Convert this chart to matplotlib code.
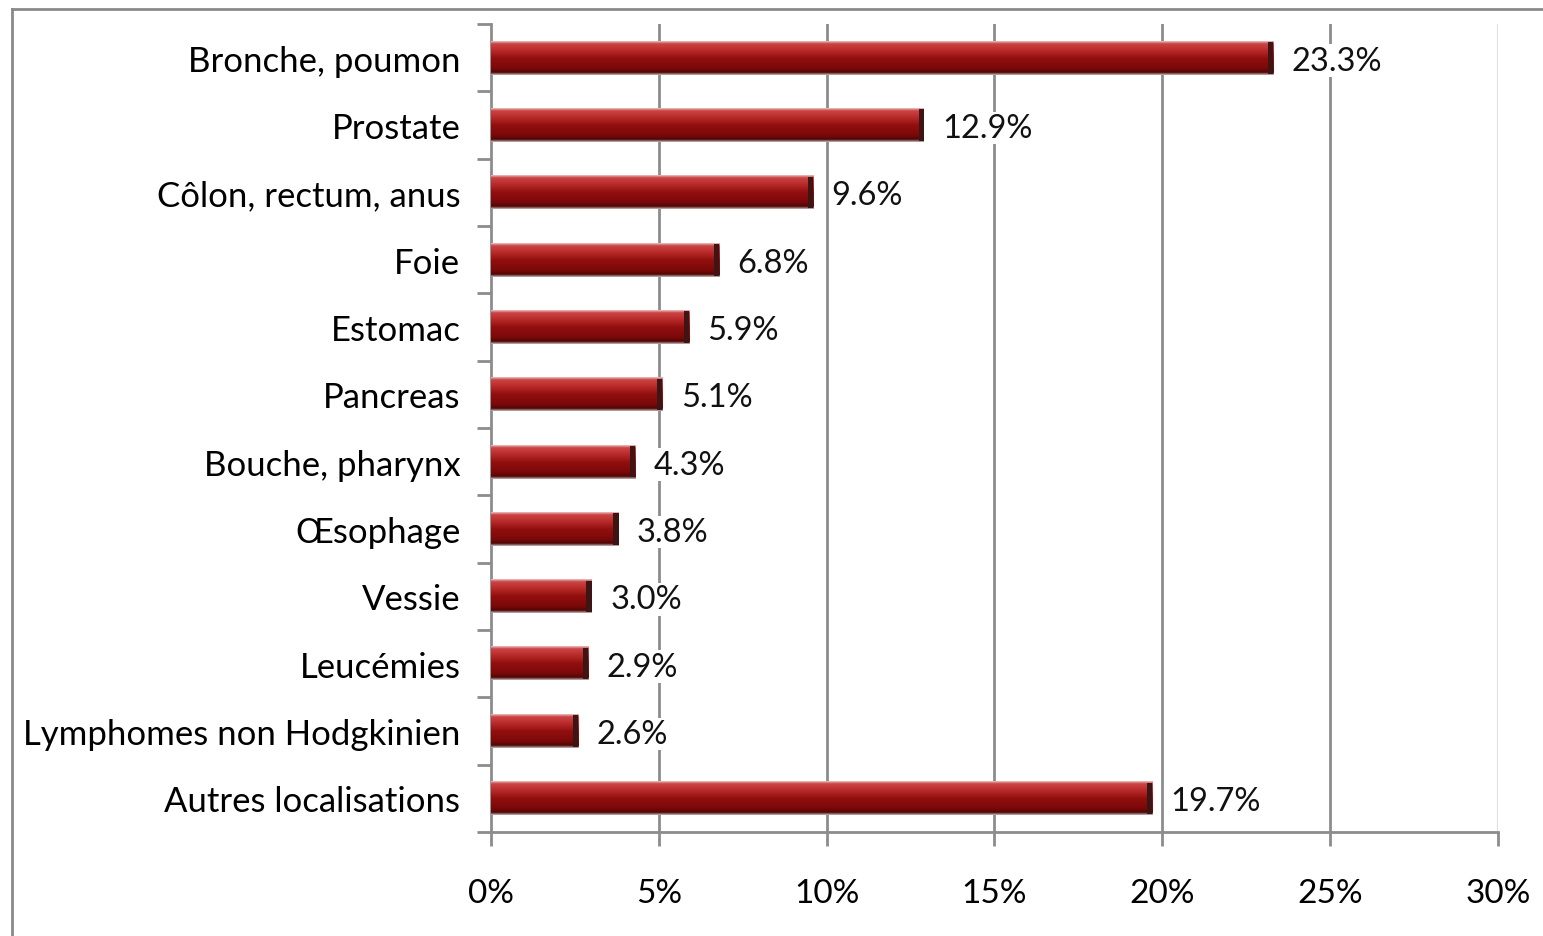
import numpy as np
import matplotlib.pyplot as plt
from matplotlib.colors import LinearSegmentedColormap
from matplotlib.lines import Line2D

categories = ['Bronche, poumon', 'Prostate', 'Côlon, rectum, anus', 'Foie', 'Estomac',
              'Pancreas', 'Bouche, pharynx', 'Œsophage', 'Vessie', 'Leucémies',
              'Lymphomes non Hodgkinien', 'Autres localisations']
values = [23.3, 12.9, 9.6, 6.8, 5.9, 5.1, 4.3, 3.8, 3.0, 2.9, 2.6, 19.7]
xticks = [0, 5, 10, 15, 20, 25, 30]

plt.rcParams['font.family'] = ['Lato', 'DejaVu Sans']

fig = plt.figure(figsize=(15.43, 9.37), dpi=100)
ax = fig.add_axes([0.3182, 0.1110, 0.6526, 0.8623])

# bevelled red bar look: vertical gradient
bar_cmap = LinearSegmentedColormap.from_list('bar', [
    (0.0, '#ebbcbc'), (0.07, '#cc4444'), (0.3, '#b52727'),
    (0.5, '#920f0f'), (0.8, '#7c0909'), (0.93, '#500707'), (1.0, '#c0b0b0')])
grad = np.linspace(0, 1, 64).reshape(-1, 1)

h = 0.5
for i, v in enumerate(values):
    ax.imshow(grad, extent=[0, v, i + h / 2, i - h / 2], origin='upper',
              aspect='auto', cmap=bar_cmap, interpolation='bilinear', zorder=3)
    ax.barh(i, 0.16, left=v - 0.16, height=h * 0.94, color='#3d1515', zorder=4)
    ax.text(v + 0.55, i, f'{v:.1f}%', va='center_baseline', ha='left', fontsize=23.5,
            color='#111111', zorder=5,
            bbox=dict(facecolor='white', edgecolor='none', pad=1))

n = len(categories)
ax.set_xlim(0, 30)
ax.set_ylim(n - 0.5, -0.5)

for x in xticks[1:-1]:
    ax.axvline(x, color='#8c8c8c', lw=2, zorder=1)
ax.axvline(30, color='#e0e0e0', lw=1.5, zorder=1)

ax.set_xticks(xticks)
ax.set_xticklabels([f'{x}%' for x in xticks], fontsize=24)
ax.tick_params(axis='x', length=10, width=2, color='#8c8c8c', pad=23)

ax.set_yticks(range(n))
ax.set_yticklabels(categories, fontsize=25)
ax.tick_params(axis='y', which='major', length=0, pad=22)
ax.set_yticks(np.arange(-0.5, n, 1), minor=True)
ax.tick_params(axis='y', which='minor', length=10, width=2, color='#8c8c8c')

for s in ['top', 'right']:
    ax.spines[s].set_visible(False)
for s in ['left', 'bottom']:
    ax.spines[s].set_color('#8c8c8c')
    ax.spines[s].set_linewidth(2)

# outer frame of the chart
fig.add_artist(Line2D([12 / 1543, 12 / 1543], [0, 1 - 10 / 937],
                      transform=fig.transFigure, color='#8a8a8a', lw=2))
fig.add_artist(Line2D([12 / 1543, 1], [1 - 10 / 937, 1 - 10 / 937],
                      transform=fig.transFigure, color='#8a8a8a', lw=2))

fig.savefig('out.png', dpi=100)
